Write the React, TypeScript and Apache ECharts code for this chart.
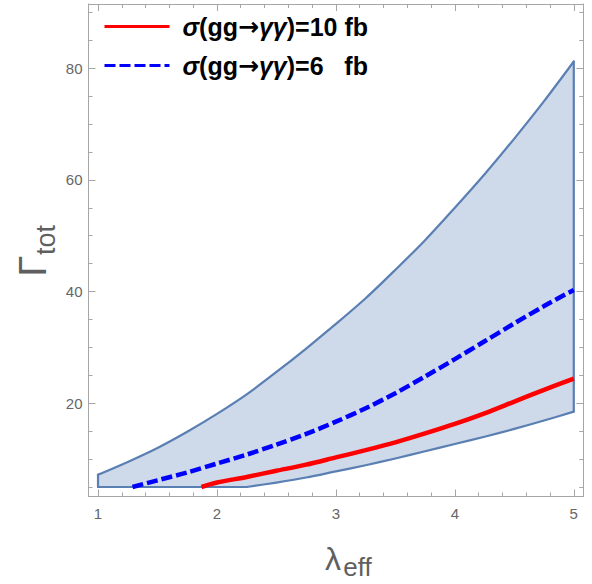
import React, { useEffect, useRef } from "react";
import * as echarts from "echarts";

// ---- data ----
const gridX = [1, 1.25, 1.5, 1.75, 2, 2.25, 2.5, 2.75, 3, 3.25, 3.5, 3.75, 4, 4.25, 4.5, 4.75, 5];
const upperY = [7.2, 9.5, 12.0, 14.9, 18.1, 21.6, 25.6, 29.8, 34.2, 38.8, 43.9, 49.2, 55.0, 61.0, 67.4, 74.1, 81.2];

const lowerX = [1, 2.25, 2.5, 2.75, 3, 3.25, 3.5, 3.75, 4, 4.25, 4.5, 4.75, 5];
const lowerY = [5.0, 5.0, 5.8, 6.7, 7.8, 8.9, 10.1, 11.4, 12.7, 14.0, 15.4, 16.9, 18.5];

const redX = [1.87, 2, 2.25, 2.5, 2.75, 3, 3.25, 3.5, 3.75, 4, 4.25, 4.5, 4.75, 5];
const redY = [5.0, 5.8, 6.8, 7.9, 9.0, 10.3, 11.6, 13.0, 14.6, 16.3, 18.2, 20.3, 22.4, 24.4];

const blueX = [1.29, 1.5, 1.75, 2, 2.25, 2.5, 2.75, 3, 3.25, 3.5, 3.75, 4, 4.25, 4.5, 4.75, 5];
const blueY = [5.0, 6.2, 7.6, 9.2, 10.8, 12.6, 14.5, 16.7, 19.1, 21.8, 24.8, 27.9, 31.1, 34.3, 37.4, 40.3];

const seriesNames = ["σ(gg→γγ)=10 fb", "σ(gg→γγ)=6   fb"];

const xMajor = [1, 2, 3, 4, 5];
const xMinor = [1.2, 1.4, 1.6, 1.8, 2.2, 2.4, 2.6, 2.8, 3.2, 3.4, 3.6, 3.8, 4.2, 4.4, 4.6, 4.8];
const yMajor = [20, 40, 60, 80];
const yMinor = [5, 10, 15, 25, 30, 35, 45, 50, 55, 65, 70, 75, 85, 90];

const X_MIN = 0.92;
const X_MAX = 5.08;
const Y_MIN = 3.3;
const Y_MAX = 91.5;

const AXIS_COLOR = "#a6a6a6";
const LABEL_COLOR = "#666666";
const TITLE_COLOR = "#5f5f5f";
const FONT = "Liberation Sans, Arial, sans-serif";
const REGION_STROKE = "#5a7fb3";

const zip = (xs: number[], ys: number[]) => xs.map((x, i) => [x, ys[i]]);

function makeX(position: "top" | "bottom", ticks: number[], len: number, labels: boolean, line: boolean) {
  return {
    type: "value",
    position,
    min: X_MIN,
    max: X_MAX,
    axisLine: { show: line, onZero: false, lineStyle: { color: AXIS_COLOR, width: 1 } },
    axisTick: { show: true, inside: true, length: len, customValues: ticks, lineStyle: { color: AXIS_COLOR, width: 1 } },
    axisLabel: labels
      ? { show: true, customValues: ticks, color: LABEL_COLOR, fontSize: 15, fontFamily: FONT, margin: 9 }
      : { show: false },
    splitLine: { show: false },
  };
}

function makeY(position: "left" | "right", ticks: number[], len: number, labels: boolean, line: boolean) {
  return {
    type: "value",
    position,
    min: Y_MIN,
    max: Y_MAX,
    axisLine: { show: line, onZero: false, lineStyle: { color: AXIS_COLOR, width: 1 } },
    axisTick: { show: true, inside: true, length: len, customValues: ticks, lineStyle: { color: AXIS_COLOR, width: 1 } },
    axisLabel: labels
      ? { show: true, customValues: ticks, color: LABEL_COLOR, fontSize: 15, fontFamily: FONT, margin: 6 }
      : { show: false },
    splitLine: { show: false },
  };
}

export default function App() {
  const ref = useRef<HTMLDivElement>(null);

  useEffect(() => {
    if (!ref.current) return;
    const chart = echarts.init(ref.current, undefined, { renderer: "svg" });

    const polyX = [...gridX, ...lowerX.slice().reverse()];
    const polyY = [...upperY, ...lowerY.slice().reverse()];
    const kink = lowerY.lastIndexOf(lowerY[0]);

    const base = { fontSize: 25, fontWeight: "bold", fontFamily: FONT, color: "#000", lineHeight: 29 };
    const legendRich = {
      n: { ...base },
      i: { ...base, fontStyle: "italic" },
      a: { ...base, fontFamily: "DejaVu Sans" },
    };

    const option: any = {
      animation: false,
      grid: { left: 88.5, right: 8.7, top: 4, bottom: 87.5, containLabel: false },
      xAxis: [
        makeX("bottom", xMajor, 7, true, true),
        makeX("bottom", xMinor, 4, false, false),
        makeX("top", xMajor, 7, false, true),
        makeX("top", xMinor, 4, false, false),
      ],
      yAxis: [
        makeY("left", yMajor, 7, true, true),
        makeY("left", yMinor, 4, false, false),
        makeY("right", yMajor, 7, false, true),
        makeY("right", yMinor, 4, false, false),
      ],
      legend: {
        orient: "vertical",
        left: 103,
        top: 14,
        padding: 0,
        itemWidth: 65,
        itemHeight: 14,
        itemGap: 14,
        data: seriesNames,
        lineStyle: { width: 3 },
        itemStyle: { opacity: 0 },
        textStyle: { padding: [0, 0, 0, 8], rich: legendRich },
        formatter: (name: string) => {
          const parts = name.split(/([σγ]+|→)/).filter((s) => s.length > 0);
          return parts
            .map((p) => (p === "→" ? `{a|${p}}` : /^[σγ]+$/.test(p) ? `{i|${p}}` : `{n|${p}}`))
            .join("");
        },
      },
      series: [
        {
          type: "custom",
          name: "region",
          xAxisIndex: 0,
          yAxisIndex: 0,
          data: [[polyX[0], polyY[0]]],
          z: 1,
          renderItem: (params: any, api: any) => {
            const c = (x: number, y: number) => api.coord([x, y]);
            const poly = polyX.map((x, i) => c(x, polyY[i]));
            const upper = gridX.map((x, i) => c(x, upperY[i]));
            const lowerFlat = lowerX.slice(0, kink + 1).map((x, i) => c(x, lowerY[i]));
            const lowerCurve = lowerX.slice(kink).map((x, i) => c(x, lowerY[kink + i]));
            const n = gridX.length - 1;
            const m = lowerX.length - 1;
            const stroke = { fill: "none", stroke: REGION_STROKE, lineWidth: 2.2, lineJoin: "round", lineCap: "round" };
            return {
              type: "group",
              children: [
                { type: "polygon", shape: { points: poly, smooth: 0 }, style: { fill: "rgba(94,129,181,0.3)", stroke: "none" } },
                { type: "polyline", shape: { points: upper, smooth: 0.3 }, style: stroke },
                { type: "polyline", shape: { points: lowerCurve, smooth: 0.3 }, style: stroke },
                { type: "polyline", shape: { points: lowerFlat }, style: stroke },
                { type: "polyline", shape: { points: [c(gridX[n], upperY[n]), c(lowerX[m], lowerY[m])] }, style: stroke },
                { type: "polyline", shape: { points: [c(lowerX[0], lowerY[0]), c(gridX[0], upperY[0])] }, style: stroke },
              ],
            };
          },
        },
        {
          type: "line",
          name: seriesNames[0],
          xAxisIndex: 0,
          yAxisIndex: 0,
          data: zip(redX, redY),
          symbol: "none",
          smooth: 0.3,
          z: 3,
          lineStyle: { color: "#ff0000", width: 4.5 },
          itemStyle: { color: "#ff0000" },
        },
        {
          type: "line",
          name: seriesNames[1],
          xAxisIndex: 0,
          yAxisIndex: 0,
          data: zip(blueX, blueY),
          symbol: "none",
          smooth: 0.3,
          z: 3,
          lineStyle: { color: "#0000ff", width: 4.5, type: [11, 4] },
          itemStyle: { color: "#0000ff" },
        },
      ],
      graphic: [
        {
          type: "text",
          x: 32.7,
          y: 266,
          rotation: Math.PI / 2,
          style: { text: "Γ", fontSize: 38, fontFamily: FONT, fill: TITLE_COLOR, align: "center", verticalAlign: "middle" },
        },
        {
          type: "text",
          x: 45.5,
          y: 240,
          rotation: Math.PI / 2,
          style: { text: "tot", fontSize: 27, fontFamily: FONT, fill: TITLE_COLOR, align: "center", verticalAlign: "middle" },
        },
        {
          type: "text",
          x: 333,
          y: 559,
          style: { text: "λ", fontSize: 32, fontFamily: FONT, fill: TITLE_COLOR, align: "center", verticalAlign: "middle" },
        },
        {
          type: "text",
          x: 357.5,
          y: 567,
          style: { text: "eff", fontSize: 26, fontFamily: FONT, fill: TITLE_COLOR, align: "center", verticalAlign: "middle" },
        },
      ],
    };

    chart.setOption(option);
    return () => chart.dispose();
  }, []);

  return (
    <div
      ref={ref}
      style={{ position: "fixed", left: 0, top: 0, width: 592, height: 584, background: "#fff" }}
    />
  );
}
